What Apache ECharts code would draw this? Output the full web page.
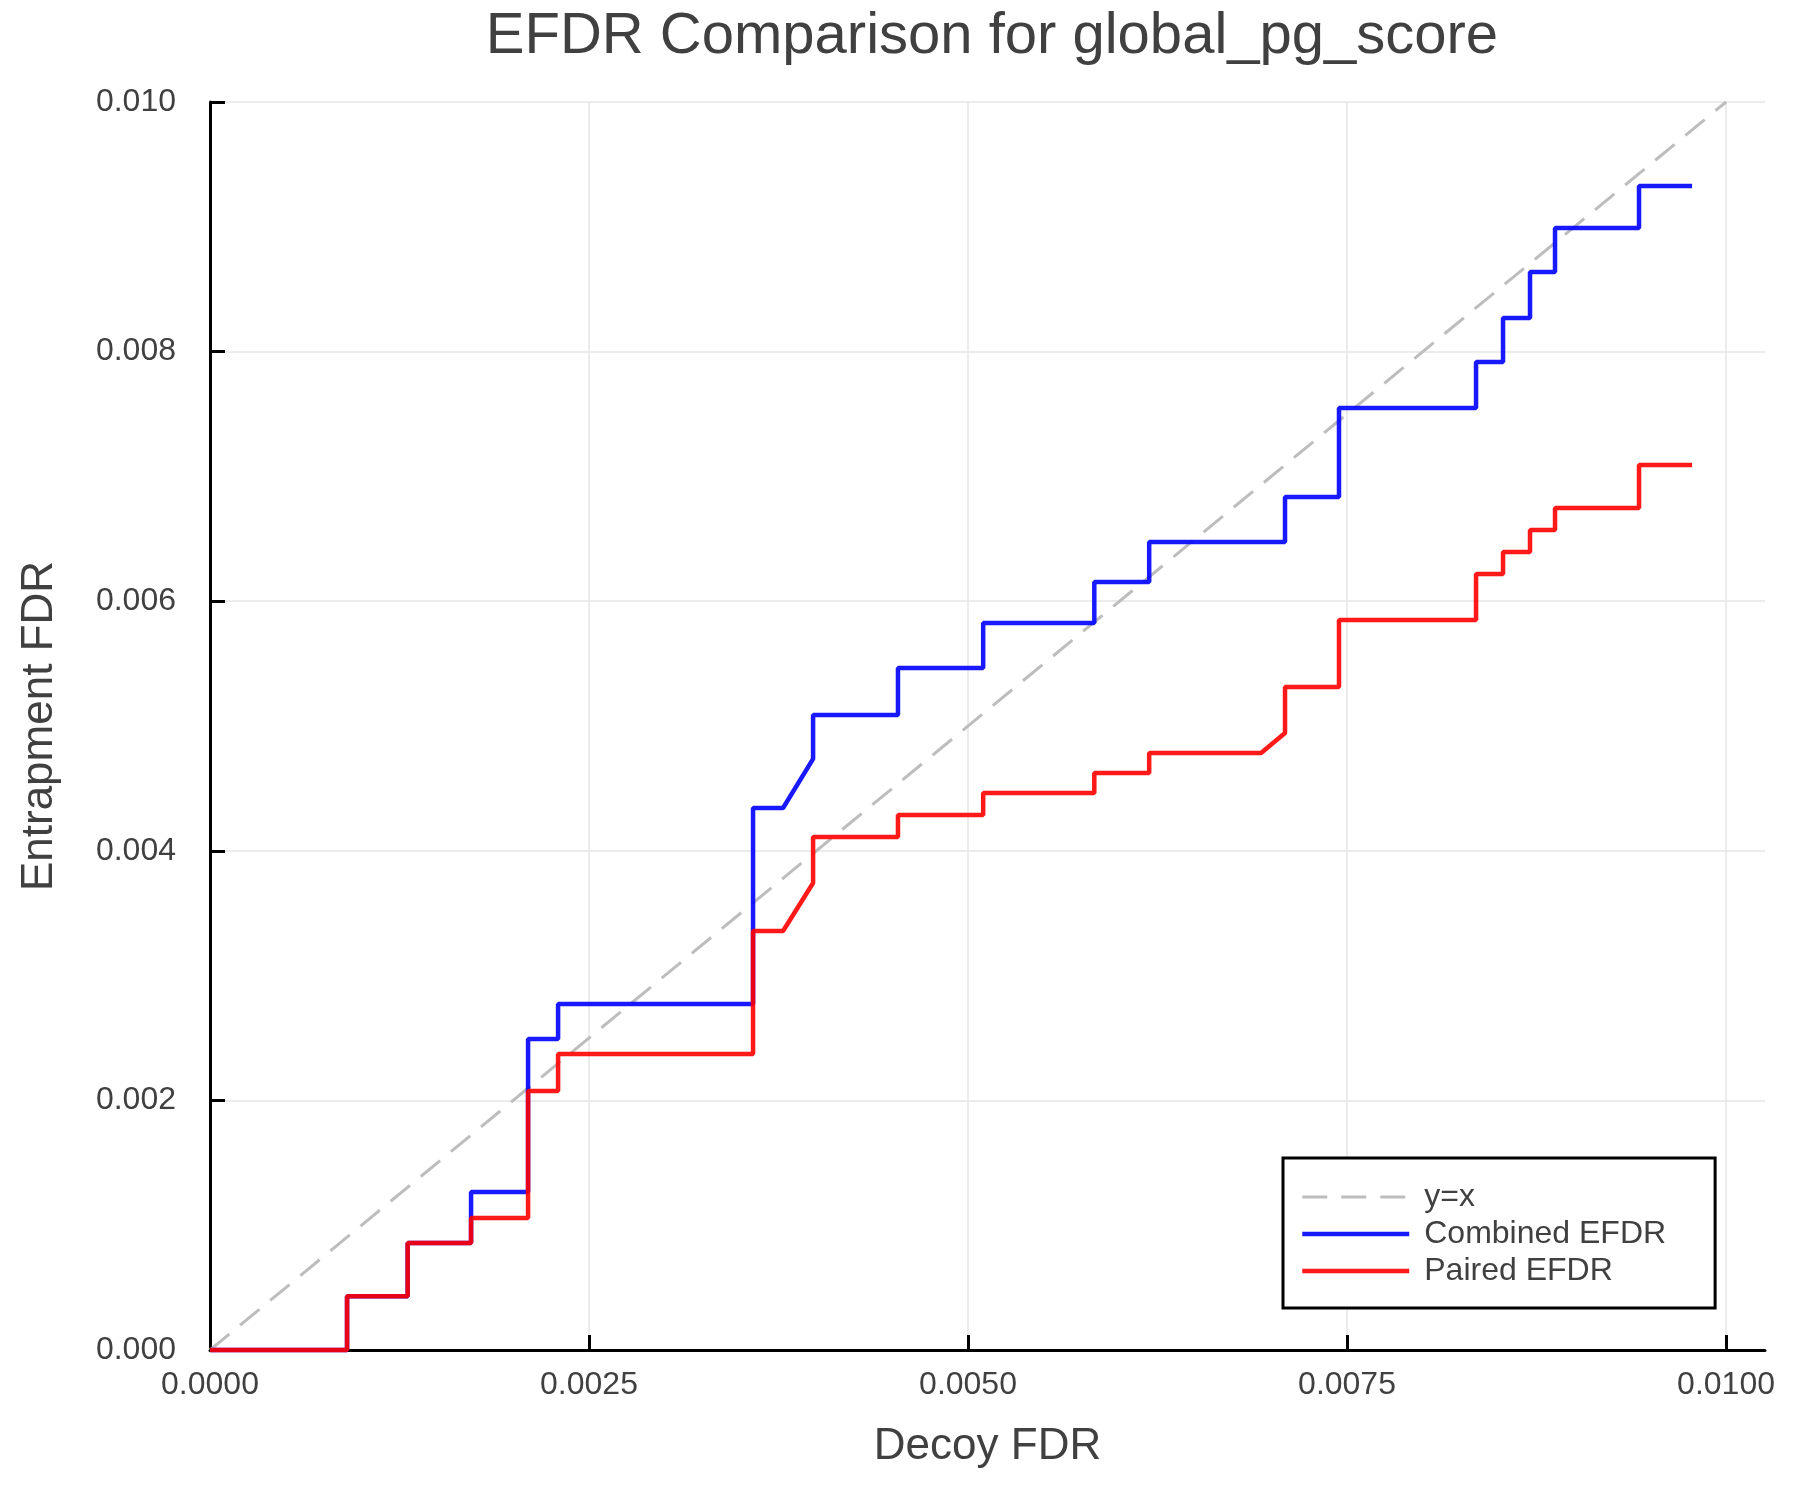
<!DOCTYPE html>
<html>
<head>
<meta charset="utf-8">
<script src="https://cdn.jsdelivr.net/npm/echarts@6/dist/echarts.min.js"></script>
<style>
  html, body { margin: 0; padding: 0; background: #fff; }
  #chart { width: 1800px; height: 1500px; }
</style>
</head>
<body>
<div id="chart"></div>
<script>
// tick values
const xTicks = [0, 0.0025, 0.005, 0.0075, 0.01]
const yTicks = [0, 0.002, 0.004, 0.006, 0.008, 0.01]

// y = x reference
const identityX = [0, 0.01]

// Combined EFDR path vertices (decoy FDR, entrapment FDR)
const combinedDecoy = [
  0, 0.000904, 0.000904, 0.001304, 0.001304, 0.001722, 0.001722, 0.002098,
  0.002098, 0.002296, 0.002296, 0.003582, 0.003582, 0.00378, 0.003978, 0.003978,
  0.004538, 0.004538, 0.0051, 0.0051, 0.005833, 0.005833, 0.006195, 0.006195,
  0.007091, 0.007091, 0.007447, 0.007447, 0.008351, 0.008351, 0.008529, 0.008529,
  0.008707, 0.008707, 0.008872, 0.008872, 0.009426, 0.009426, 0.009776
]
const combinedEfdr = [
  0, 0, 0.00043, 0.00043, 0.000857, 0.000857, 0.001266, 0.001266,
  0.002492, 0.002492, 0.002772, 0.002772, 0.004343, 0.004343, 0.004736, 0.005088,
  0.005088, 0.005465, 0.005465, 0.005825, 0.005825, 0.006154, 0.006154, 0.006474,
  0.006474, 0.006835, 0.006835, 0.007548, 0.007548, 0.007917, 0.007917, 0.008269,
  0.008269, 0.008638, 0.008638, 0.00899, 0.00899, 0.009327, 0.009327
]

// Paired EFDR path vertices
const pairedDecoy = [
  0, 0.000904, 0.000904, 0.001304, 0.001304, 0.001722, 0.001722, 0.002098,
  0.002098, 0.002296, 0.002296, 0.003582, 0.003582, 0.00378, 0.003978, 0.003978,
  0.004538, 0.004538, 0.0051, 0.0051, 0.005833, 0.005833, 0.006195, 0.006195,
  0.006933, 0.007091, 0.007091, 0.007447, 0.007447, 0.008351, 0.008351, 0.008529,
  0.008529, 0.008707, 0.008707, 0.008872, 0.008872, 0.009426, 0.009426, 0.009776
]
const pairedEfdr = [
  0, 0, 0.00043, 0.00043, 0.000857, 0.000857, 0.001058, 0.001058,
  0.002075, 0.002075, 0.002372, 0.002372, 0.003357, 0.003357, 0.003742, 0.00411,
  0.00411, 0.004287, 0.004287, 0.004463, 0.004463, 0.004623, 0.004623, 0.004784,
  0.004784, 0.004944, 0.005312, 0.005312, 0.005849, 0.005849, 0.006218, 0.006218,
  0.006394, 0.006394, 0.00657, 0.00657, 0.006747, 0.006747, 0.007091, 0.007091
]

const zip = (xs, ys) => xs.map((x, i) => [x, ys[i]])

const font = '"Liberation Sans", Arial, Helvetica, sans-serif'
const textColor = '#404040'
const blue = 'rgba(0,0,255,0.9)'
const red = 'rgba(255,0,0,0.9)'
const gray = '#bdbdbd'

const chart = echarts.init(document.getElementById('chart'))

chart.setOption({
  backgroundColor: '#fff',
  animation: false,
  title: {
    text: 'EFDR Comparison for global_pg_score',
    left: 987,
    textAlign: 'center',
    top: 3,
    textStyle: { fontFamily: font, fontSize: 58, fontWeight: 'normal', color: textColor }
  },
  grid: { left: 210, right: 35, top: 102, bottom: 150 },
  legend: {
    left: 1283,
    top: 1158,
    orient: 'vertical',
    align: 'left',
    padding: [23, 49, 21, 17],
    itemGap: 5,
    itemWidth: 107,
    itemHeight: 16,
    borderColor: '#000',
    borderWidth: 3,
    borderRadius: 0,
    backgroundColor: '#fff',
    itemStyle: { opacity: 0 },
    textStyle: { fontFamily: font, fontSize: 32, color: textColor, lineHeight: 32, padding: [0, 0, 0, 10] },
    data: [
      { name: 'y=x', lineStyle: { width: 3 } },
      { name: 'Combined EFDR', lineStyle: { width: 4.5 } },
      { name: 'Paired EFDR', lineStyle: { width: 4.5 } }
    ]
  },
  xAxis: {
    type: 'value',
    min: 0,
    max: 0.010257,
    interval: 0.0025,
    name: 'Decoy FDR',
    nameLocation: 'middle',
    nameGap: 75,
    nameTextStyle: { fontFamily: font, fontSize: 44, color: textColor },
    axisLine: { lineStyle: { color: '#000', width: 3 } },
    axisTick: { inside: true, length: 15, lineStyle: { color: '#000', width: 3 }, customValues: xTicks },
    axisLabel: {
      margin: 19,
      fontFamily: font, fontSize: 32, color: textColor,
      customValues: xTicks,
      formatter: v => v.toFixed(4)
    },
    splitLine: { show: true, lineStyle: { color: '#e6e6e6', width: 1.5 } }
  },
  yAxis: {
    type: 'value',
    min: 0,
    max: 0.01,
    interval: 0.002,
    name: 'Entrapment FDR',
    nameLocation: 'middle',
    nameGap: 148,
    nameTextStyle: { fontFamily: font, fontSize: 44, color: textColor },
    axisLine: { show: true, lineStyle: { color: '#000', width: 3 } },
    axisTick: { show: true, inside: true, length: 15, lineStyle: { color: '#000', width: 3 }, customValues: yTicks },
    axisLabel: {
      margin: 34,
      fontFamily: font, fontSize: 32, color: textColor,
      customValues: yTicks,
      formatter: v => v.toFixed(3)
    },
    splitLine: { show: true, lineStyle: { color: '#e6e6e6', width: 1.5 } }
  },
  series: [
    {
      name: 'y=x',
      type: 'line',
      data: zip(identityX, identityX),
      showSymbol: false,
      symbol: 'none',
      clip: false,
      color: gray,
      lineStyle: { color: gray, width: 3, type: [25, 14] }
    },
    {
      name: 'Combined EFDR',
      type: 'line',
      data: zip(combinedDecoy, combinedEfdr),
      showSymbol: false,
      symbol: 'none',
      clip: false,
      color: blue,
      lineStyle: { color: blue, width: 4.5 }
    },
    {
      name: 'Paired EFDR',
      type: 'line',
      data: zip(pairedDecoy, pairedEfdr),
      showSymbol: false,
      symbol: 'none',
      clip: false,
      color: red,
      lineStyle: { color: red, width: 4.5 }
    }
  ]
})
</script>
</body>
</html>
